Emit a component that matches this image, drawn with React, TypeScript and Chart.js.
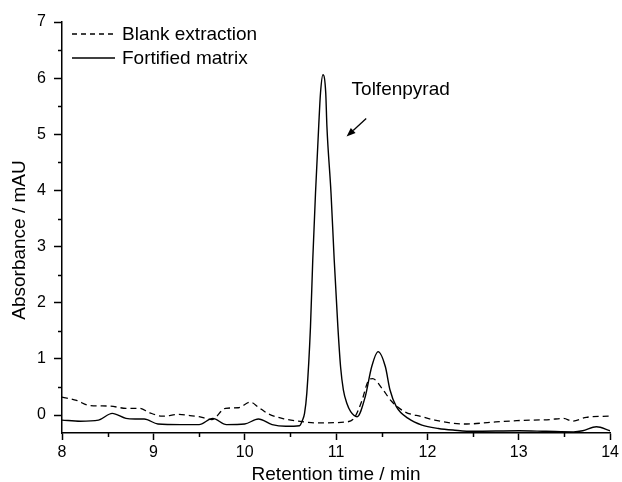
import React, { useEffect, useRef } from 'react';
import { Chart, registerables } from 'chart.js';

Chart.register(...registerables);

// ---- data ----
const blankTime = [8.0, 8.16, 8.3, 8.52, 8.7, 8.85, 8.96, 9.1, 9.28, 9.4, 9.5, 9.64, 9.79, 9.93, 10.06, 10.15, 10.26, 10.44, 10.59, 10.8, 11.13, 11.2, 11.28, 11.35, 11.4, 11.5, 11.61, 11.75, 11.94, 12.08, 12.25, 12.43, 12.69, 12.98, 13.34, 13.49, 13.59, 13.74, 14.0];
const blankAbs = [0.32, 0.26, 0.17, 0.16, 0.12, 0.12, 0.04, -0.02, 0.01, -0.01, -0.03, -0.08, 0.12, 0.13, 0.23, 0.14, 0.02, -0.07, -0.11, -0.14, -0.12, -0.05, 0.24, 0.6, 0.65, 0.48, 0.24, 0.06, -0.03, -0.09, -0.14, -0.16, -0.13, -0.1, -0.08, -0.06, -0.11, -0.04, -0.02];

const fortTime = [8.0, 8.2, 8.4, 8.55, 8.7, 8.8, 8.9, 9.05, 9.3, 9.5, 9.65, 9.8, 10.0, 10.15, 10.3, 10.45, 10.6, 10.63, 10.655, 10.68, 10.72, 10.745, 10.775, 10.81, 10.83, 10.857, 10.887, 10.9, 10.945, 10.98, 11.02, 11.05, 11.08, 11.12, 11.16, 11.23, 11.32, 11.39, 11.46, 11.54, 11.59, 11.66, 11.79, 11.94, 12.12, 12.3, 12.5, 13.0, 13.3, 13.6, 13.7, 13.85, 14.0];
const fortAbs = [-0.09, -0.11, -0.09, 0.03, -0.06, -0.07, -0.07, -0.16, -0.17, -0.17, -0.06, -0.17, -0.16, -0.07, -0.17, -0.2, -0.19, -0.1, 0.03, 0.39, 1.57, 2.76, 3.95, 5.14, 5.74, 6.06, 5.74, 5.14, 3.95, 2.76, 1.57, 0.85, 0.45, 0.2, 0.06, -0.03, 0.33, 0.86, 1.13, 0.86, 0.45, 0.15, -0.06, -0.18, -0.24, -0.27, -0.29, -0.28, -0.29, -0.3, -0.28, -0.21, -0.28];

const xTicks = [8, 9, 10, 11, 12, 13, 14];
const yTicks = [0, 1, 2, 3, 4, 5, 6, 7];
const seriesNames = ['Blank extraction', 'Fortified matrix'];
const xTitle = 'Retention time / min';
const yTitle = 'Absorbance / mAU';
const peakLabel = 'Tolfenpyrad';

const FONT = '"Liberation Sans", Arial, Helvetica, sans-serif';

const overlay = {
  id: 'overlay',
  afterDraw(chart: any) {
    const ctx = chart.ctx as CanvasRenderingContext2D;
    const xs = chart.scales.x;
    const ys = chart.scales.y;
    const area = chart.chartArea;
    ctx.save();
    ctx.strokeStyle = '#000';
    ctx.fillStyle = '#000';
    ctx.lineWidth = 1.5;
    // minor ticks
    for (let i = 0; i < xTicks.length - 1; i++) {
      const v = (xTicks[i] + xTicks[i + 1]) / 2;
      const px = Math.round(xs.getPixelForValue(v)) + 0.5;
      ctx.beginPath();
      ctx.moveTo(px, area.bottom);
      ctx.lineTo(px, area.bottom + 4);
      ctx.stroke();
    }
    for (let i = 0; i < yTicks.length - 1; i++) {
      const v = (yTicks[i] + yTicks[i + 1]) / 2;
      const py = Math.round(ys.getPixelForValue(v)) + 0.5;
      ctx.beginPath();
      ctx.moveTo(area.left, py);
      ctx.lineTo(area.left - 4, py);
      ctx.stroke();
    }
    // legend
    ctx.lineWidth = 1.3;
    ctx.font = `19px ${FONT}`;
    ctx.textAlign = 'left';
    ctx.textBaseline = 'middle';
    const rows = [34, 58];
    seriesNames.forEach((name, i) => {
      const y = rows[i];
      ctx.setLineDash(i === 0 ? [5, 4] : []);
      ctx.beginPath();
      ctx.moveTo(72, y);
      ctx.lineTo(115, y);
      ctx.stroke();
      ctx.setLineDash([]);
      ctx.fillText(name, 122, y + 1);
    });
    // axis titles
    ctx.textAlign = 'center';
    ctx.textBaseline = 'alphabetic';
    ctx.fillText(xTitle, (area.left + area.right) / 2, 480);
    ctx.save();
    ctx.translate(25, 240);
    ctx.rotate(-Math.PI / 2);
    ctx.fillText(yTitle, 0, 0);
    ctx.restore();
    // annotation
    ctx.textAlign = 'left';
    ctx.fillText(peakLabel, xs.getPixelForValue(11.17), ys.getPixelForValue(5.7));
    const x1 = xs.getPixelForValue(11.33), y1 = ys.getPixelForValue(5.28);
    const x2 = xs.getPixelForValue(11.115), y2 = ys.getPixelForValue(4.96);
    const ang = Math.atan2(y2 - y1, x2 - x1);
    const hl = 9, hw = 3.5;
    const bx = x2 - hl * Math.cos(ang), by = y2 - hl * Math.sin(ang);
    ctx.lineWidth = 1.3;
    ctx.beginPath();
    ctx.moveTo(x1, y1);
    ctx.lineTo(bx, by);
    ctx.stroke();
    ctx.beginPath();
    ctx.moveTo(x2, y2);
    ctx.lineTo(bx + hw * Math.sin(ang), by - hw * Math.cos(ang));
    ctx.lineTo(bx - hw * Math.sin(ang), by + hw * Math.cos(ang));
    ctx.closePath();
    ctx.fill();
    ctx.restore();
  },
};

export default function App() {
  const ref = useRef<HTMLCanvasElement | null>(null);
  useEffect(() => {
    if (!ref.current) return;
    const chart = new Chart(ref.current, {
      type: 'line',
      data: {
        datasets: [
          {
            label: seriesNames[0],
            data: blankTime.map((t, i) => ({ x: t, y: blankAbs[i] })),
            borderColor: '#000',
            borderWidth: 1.3,
            borderDash: [6, 4],
            pointRadius: 0,
            fill: false,
            cubicInterpolationMode: 'monotone',
          },
          {
            label: seriesNames[1],
            data: fortTime.map((t, i) => ({ x: t, y: fortAbs[i] })),
            borderColor: '#000',
            borderWidth: 1.4,
            pointRadius: 0,
            fill: false,
            cubicInterpolationMode: 'monotone',
          },
        ],
      },
      options: {
        animation: false,
        responsive: false,
        devicePixelRatio: 1,
        layout: { padding: { top: 22, right: 9, left: 0, bottom: 0 } },
        plugins: { legend: { display: false }, tooltip: { enabled: false } },
        scales: {
          x: {
            type: 'linear',
            min: 8,
            max: 14,
            afterBuildTicks: (s: any) => { s.ticks = xTicks.map((v) => ({ value: v })); },
            afterFit: (s: any) => { s.height = 49; },
            border: { display: true, color: '#000', width: 1.5 },
            grid: { display: true, drawOnChartArea: false, drawTicks: true, tickLength: 7, tickWidth: 1.5, tickColor: '#000', color: '#000' },
            ticks: { color: '#000', font: { size: 16, family: FONT }, padding: 3, maxRotation: 0 },
          },
          y: {
            type: 'linear',
            min: -0.32,
            max: 7,
            afterBuildTicks: (s: any) => { s.ticks = yTicks.map((v) => ({ value: v })); },
            afterFit: (s: any) => { s.width = 62; },
            border: { display: true, color: '#000', width: 1.5 },
            grid: { display: true, drawOnChartArea: false, drawTicks: true, tickLength: 8, tickWidth: 1.5, tickColor: '#000', color: '#000' },
            ticks: { color: '#000', font: { size: 16, family: FONT }, padding: 8 },
          },
        },
      },
      plugins: [overlay],
    });
    return () => chart.destroy();
  }, []);
  return (
    <div style={{ position: 'absolute', left: 0, top: 0, width: 622, height: 482, background: '#fff' }}>
      <canvas ref={ref} width={622} height={482} style={{ width: 622, height: 482, display: 'block' }} />
    </div>
  );
}
